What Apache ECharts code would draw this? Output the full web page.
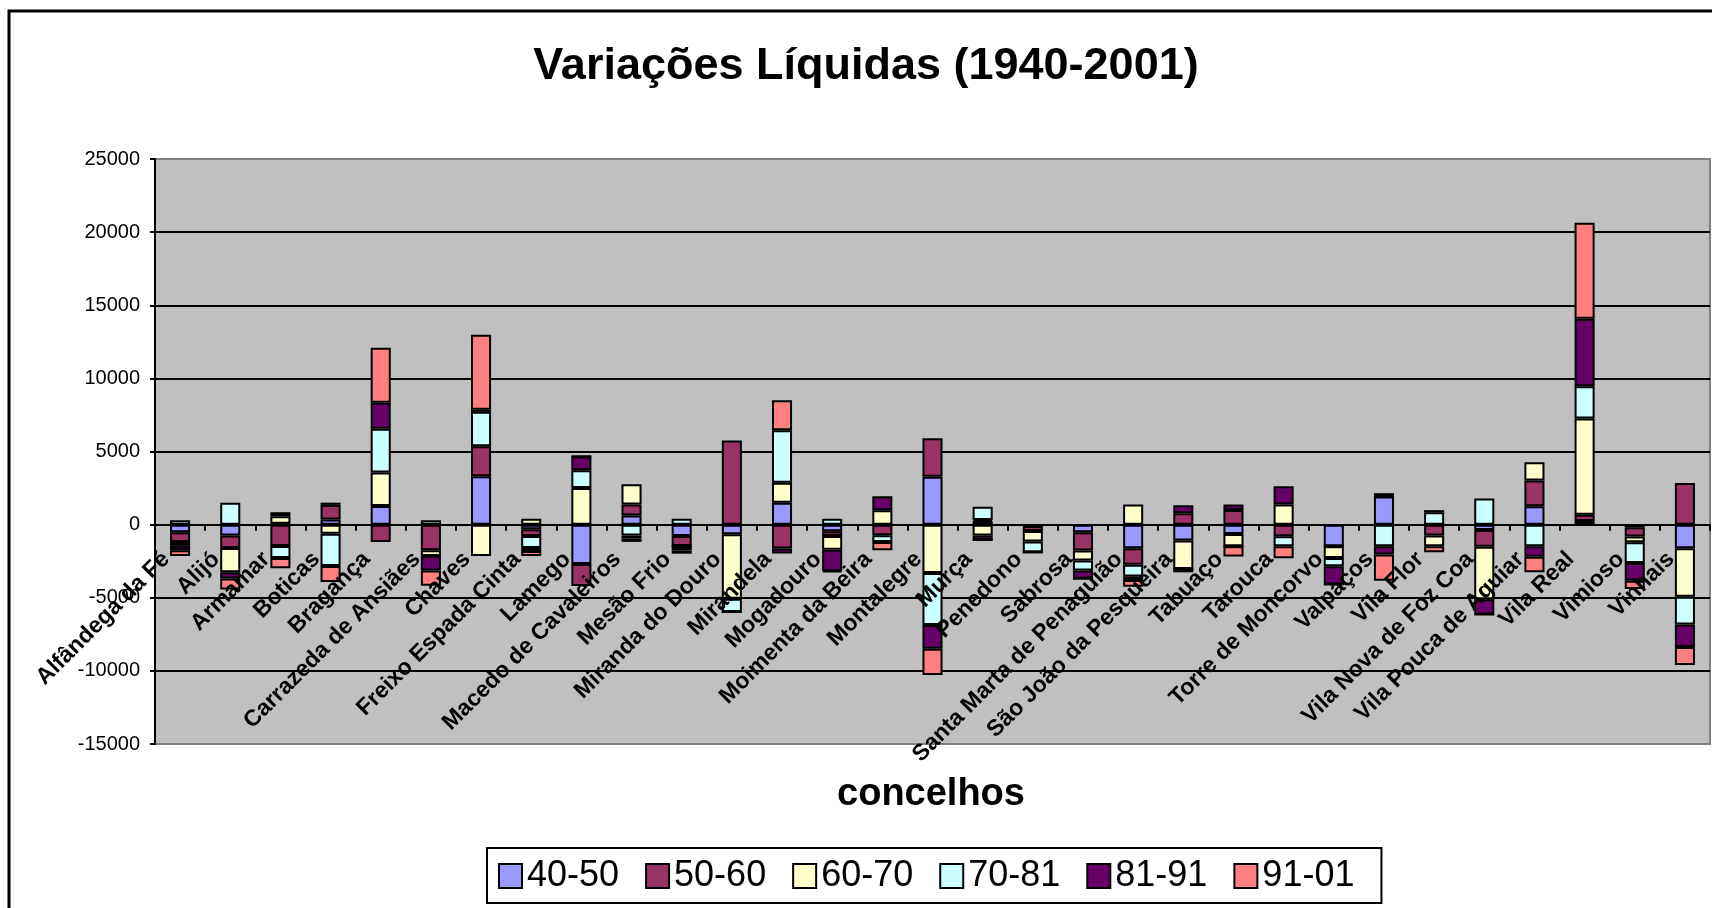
<!DOCTYPE html>
<html>
<head>
<meta charset="utf-8">
<script src="https://cdn.jsdelivr.net/npm/echarts@6/dist/echarts.min.js"></script>
<style>
  html, body { margin: 0; padding: 0; background: #fff; }
  #main { width: 1712px; height: 908px; }
</style>
</head>
<body>
<div id="main"></div>
<script>
// concelhos
var categories = ['Alfândega da Fé', 'Alijó', 'Armamar', 'Boticas', 'Bragança', 'Carrazeda de Ansiães',
  'Chaves', 'Freixo Espada Cinta', 'Lamego', 'Macedo de Cavaleiros', 'Mesão Frio', 'Miranda do Douro',
  'Mirandela', 'Mogadouro', 'Moimenta da Beira', 'Montalegre', 'Murça', 'Penedono', 'Sabrosa',
  'Santa Marta de Penaguião', 'São João da Pesqueira', 'Tabuaço', 'Tarouca', 'Torre de Moncorvo',
  'Valpaços', 'Vila Flor', 'Vila Nova de Foz Coa', 'Vila Pouca de Aguiar', 'Vila Real', 'Vimioso', 'Vinhais'];

var periods = ['40-50', '50-60', '60-70', '70-81', '81-91', '91-01'];

var v4050 = [-520, -750, 60, 350, 1270, 0, 3310, -320, -2690, 620, -780, -660, 1500, -460, 0, 3280,
  230, -100, -520, -1620, -1090, -640, 0, -1480, 1920, 0, -370, 1250, 250, -180, -1620];
var v5060 = [-660, -840, -1460, 1000, -1190, -1760, 2050, -460, -1500, 750, -680, 5750, -1640, -320, -730, 2620,
  80, -330, -1250, -1120, 780, 1000, -800, 0, 0, -750, -1140, 1760, 430, -640, 2850];
var v6070 = [-270, -1660, 520, -620, 2300, -390, -2150, 400, 2510, 1390, 0, -4400, 1370, -930, 980, -3300,
  -750, -730, -680, 1370, -1940, -840, 1370, -800, 230, -730, -3600, 1250, 6580, -390, -3320];
var v7081 = [300, 1500, -820, -2210, 2990, 300, 2350, -820, 1210, -750, 400, -910, 3580, 400, -460, -3570,
  910, -730, -680, -800, 0, 0, -680, -570, -1480, 840, 1780, -1480, 2200, -1410, -1890];
var v8191 = [-300, -430, 270, 150, 1780, -980, 150, -200, 960, -200, -300, 0, -340, -1460, 960, -1620,
  -300, 0, -570, -250, 550, 370, 1250, -1250, -570, 150, -1030, -710, 4620, -1210, -1540];
var v9101 = [-390, -750, -710, -1090, 3750, -1050, 5130, -340, 0, -230, -230, 0, 2050, -80, -570, -1790,
  0, 0, 0, -460, -230, -700, -820, 0, -1780, -410, 0, -1070, 6560, -570, -1220];

var yTicks = [-15000, -10000, -5000, 0, 5000, 10000, 15000, 20000, 25000];

var colors = ['#9999FF', '#993366', '#FFFFCC', '#CCFFFF', '#660066', '#FF8080'];
var seriesData = [v4050, v5060, v6070, v7081, v8191, v9101];

var font = '"Liberation Sans", Arial, sans-serif';

var gridTop = 159, gridBottom = 164, chartHeight = 908;
var yMin = yTicks[0], yMax = yTicks[yTicks.length - 1];
// distance from the bottom of the plot up to the zero line
var zeroOffset = (chartHeight - gridTop - gridBottom) * (0 - yMin) / (yMax - yMin);

var myChart = echarts.init(document.getElementById('main'));

myChart.setOption({
  animation: false,
  textStyle: { fontFamily: font },
  grid: {
    left: 155, right: 2, top: gridTop, bottom: gridBottom,
    show: true,
    backgroundColor: '#C0C0C0',
    borderColor: '#808080',
    borderWidth: 2,
    outerBoundsMode: 'none'
  },
  graphic: [
    {
      type: 'rect', z: -10, silent: true,
      shape: { x: 9, y: 11, width: 1800, height: 1000 },
      style: { fill: '#fff', stroke: '#000', lineWidth: 3 }
    },
    {
      type: 'text', x: 866, y: 67, silent: true,
      style: { text: 'Variações Líquidas (1940-2001)', font: 'bold 45px ' + font, fill: '#000',
        textAlign: 'center', textVerticalAlign: 'middle' }
    },
    {
      type: 'text', x: 931, y: 795, silent: true,
      style: { text: 'concelhos', font: 'bold 38px ' + font, fill: '#000',
        textAlign: 'center', textVerticalAlign: 'middle' }
    }
  ],
  legend: {
    data: periods,
    left: 487,
    top: 848,
    orient: 'horizontal',
    icon: 'rect',
    itemWidth: 23,
    itemHeight: 24,
    itemGap: 26,
    padding: [10, 27, 9, 11],
    borderColor: '#000',
    borderWidth: 2,
    backgroundColor: '#fff',
    textStyle: { fontSize: 36, color: '#000', fontFamily: font }
  },
  xAxis: {
    type: 'category',
    data: categories,
    z: 10,
    offset: -zeroOffset,
    axisLine: { onZero: false, lineStyle: { color: '#000', width: 2 } },
    axisTick: { show: true, length: 6, lineStyle: { color: '#000', width: 2 } },
    axisLabel: {
      interval: 0,
      rotate: 45,
      margin: 17,
      padding: [0, 20, 0, 0],
      fontSize: 23,
      fontWeight: 'bold',
      color: '#000',
      fontFamily: font
    },
    splitLine: { show: false }
  },
  yAxis: {
    type: 'value',
    min: yMin,
    max: yMax,
    interval: 5000,
    axisLine: { show: true, lineStyle: { color: '#000', width: 2 } },
    axisTick: { show: true, length: 5, lineStyle: { color: '#000', width: 2 } },
    axisLabel: {
      fontSize: 20, color: '#000', margin: 15, fontFamily: font,
      formatter: function (v) { return String(v); }
    },
    splitLine: { show: true, showMinLine: false, showMaxLine: false, lineStyle: { color: '#000', width: 2 } }
  },
  series: periods.map(function (p, i) {
    return {
      name: p,
      type: 'bar',
      stack: 'total',
      stackStrategy: 'samesign',
      barWidth: '40%',
      data: seriesData[i],
      itemStyle: { color: colors[i], borderColor: '#000', borderWidth: 2 },
      emphasis: { disabled: true }
    };
  })
});
</script>
</body>
</html>
